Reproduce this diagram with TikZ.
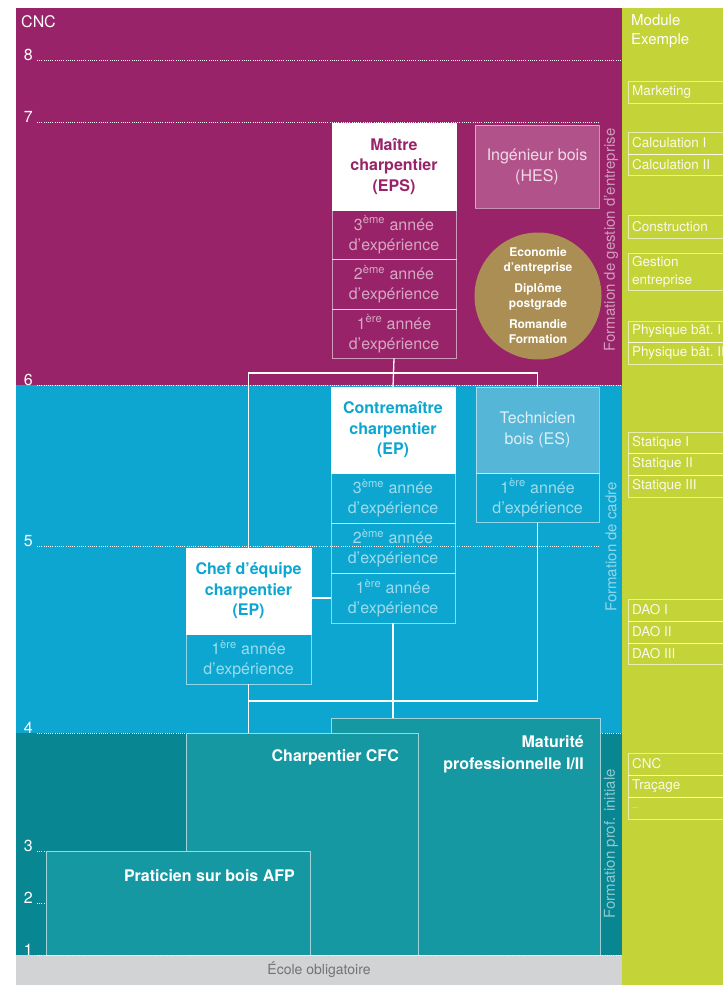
\documentclass[tikz,border=0pt]{standalone}
\usepackage{fontspec}
\setmainfont{TeX Gyre Heros}
\usetikzlibrary{positioning}

\definecolor{cncpurple}{RGB}{152,35,105}
\definecolor{hespurple}{RGB}{178,82,139}
\definecolor{cadrecyan}{RGB}{12,166,208}
\definecolor{escyan}{RGB}{86,182,216}
\definecolor{initteal}{RGB}{8,134,145}
\definecolor{boxteal}{RGB}{22,152,162}
\definecolor{modgreen}{RGB}{196,211,56}
\definecolor{ecolegray}{RGB}{210,211,213}
\definecolor{pdgold}{RGB}{170,142,84}

\begin{document}
\begin{tikzpicture}[x=1pt,y=-1pt,
  level/.style={white,line width=0.9pt,dash pattern=on 0.9pt off 1.3pt},
  levelnum/.style={text=white,font=\fontsize{16}{18}\selectfont,anchor=base east,inner sep=0pt},
  titlebox/.style={fill=white,draw=white,line width=0.8pt,anchor=north west,inner sep=0pt,outer sep=0pt,
    minimum width=124pt,minimum height=86pt,align=center,font=\bfseries\fontsize{16}{20.5}\selectfont},
  yearbox/.style={draw=white,draw opacity=0.55,line width=0.8pt,inner sep=0pt,outer sep=0pt,
    minimum width=124pt,minimum height=49.5pt,align=center,text=white,text opacity=0.6,
    font=\fontsize{16}{20}\selectfont},
  link/.style={white,line width=1.3pt},
  cfcbox/.style={fill=boxteal,draw=white,draw opacity=0.6,line width=0.8pt,anchor=north west,inner sep=0pt,outer sep=0pt},
  cfctext/.style={text=white,font=\bfseries\fontsize{16}{22}\selectfont,align=right,inner sep=0pt,anchor=north east},
  sidetext/.style={rotate=90,text=white,text opacity=0.55,font=\fontsize{15}{18}\selectfont,inner sep=0pt},
  modframe/.style={draw=white,draw opacity=0.6,line width=0.7pt},
  modtext/.style={text=white,text opacity=0.9,font=\fontsize{13.5}{18}\selectfont,anchor=west,align=left,inner sep=0pt}
]
\useasboundingbox (0,0) rectangle (723,985);
\clip (0,0) rectangle (723,985);

% Bands
\fill[cncpurple] (16,8) rectangle (622,385);
\fill[cadrecyan] (16,385) rectangle (622,733);
\fill[initteal] (16,733) rectangle (622,955);
\fill[ecolegray] (16,955) rectangle (622,985);
\fill[modgreen] (622,8) rectangle (723,985);

% Levels
\foreach \ly/\lx in {60/622,122/600,385/622,546/600,733/622,851/190,903/50,955/622}
  \draw[level] (37,\ly) -- (\lx,\ly);
\foreach \ly/\num in {60/8,122/7,385/6,546/5,733/4,851/3,903/2,955/1}
  \node[levelnum] (lev\num) at (33,\ly) {\num};
\node[anchor=north west,text=white,font=\fontsize{16}{18}\selectfont,inner sep=0pt] (cnc) at (21,15) {CNC};

% Formation de gestion d'entreprise
\node[titlebox,text=cncpurple,minimum height=87pt] (maitre) at (332,123) {Maître\\charpentier\\(EPS)};
\node[yearbox,below=0pt of maitre] (maitre3) {3\textsuperscript{ème} année\\d'expérience};
\node[yearbox,below=0pt of maitre3] (maitre2) {2\textsuperscript{ème} année\\d'expérience};
\node[yearbox,below=0pt of maitre2] (maitre1) {1\textsuperscript{ère} année\\d'expérience};
\node[titlebox,fill=hespurple,draw opacity=0.5,text=white,text opacity=0.8,font=\fontsize{16}{21}\selectfont,
  minimum height=83pt] (hes) at (475,125) {Ingénieur bois\\(HES)};
\node[circle,fill=pdgold,minimum size=127pt,inner sep=0pt,text=white,align=center,
  font=\bfseries\fontsize{12}{15}\selectfont] (postgrade) at (538,296)
  {Economie\\d'entreprise\\[6pt]Diplôme\\postgrade\\[6pt]Romandie\\Formation};

% Formation de cadre
\node[titlebox,text=cadrecyan] (contre) at (331,387) {Contremaître\\charpentier\\(EP)};
\node[yearbox,below=0pt of contre,minimum height=50pt] (contre3) {3\textsuperscript{ème} année\\d'expérience};
\node[yearbox,below=0pt of contre3,minimum height=50pt] (contre2) {2\textsuperscript{ème} année\\d'expérience};
\node[yearbox,below=0pt of contre2,minimum height=50pt] (contre1) {1\textsuperscript{ère} année\\d'expérience};
\node[titlebox,fill=escyan,draw opacity=0.5,text=white,text opacity=0.8,font=\fontsize{16}{21}\selectfont,
  minimum width=123pt] (techn) at (476,387) {Technicien\\bois (ES)};
\node[yearbox,below=0pt of techn,minimum width=123pt] (techn1) {1\textsuperscript{ère} année\\d'expérience};
\node[titlebox,text=cadrecyan,minimum width=125pt] (chef) at (186,548) {Chef d'équipe\\charpentier\\(EP)};
\node[yearbox,below=0pt of chef,minimum width=125pt,minimum height=50pt] (chef1) {1\textsuperscript{ère} année\\d'expérience};

% Formation prof. initiale
\node[cfcbox,minimum width=269pt,minimum height=237pt] (matu) at (331,718) {};
\node[cfcbox,minimum width=232pt,minimum height=222pt] (cfc) at (186,733) {};
\node[cfcbox,minimum width=264pt,minimum height=104pt] (afp) at (46,851) {};
\node[cfctext] (matutxt) at ([xshift=-16pt,yshift=-17pt]matu.north east) {Maturité\\professionnelle I/II};
\node[cfctext] (cfctxt) at ([xshift=-19pt,yshift=-16pt]cfc.north east) {Charpentier CFC};
\node[cfctext] (afptxt) at ([xshift=-15pt,yshift=-18pt]afp.north east) {Praticien sur bois AFP};

% Connections
\coordinate (upfork) at (393,373);
\coordinate (lowfork) at (393,701);
\draw[link] (maitre1.south) -- (contre.north);
\draw[link] (chef.north) |- (upfork) -| (techn.north);
\draw[link] (contre1.west) -- (contre1.west -| chef.east);
\draw[link] (techn1.south) |- (lowfork) -| (chef1.south);
\draw[link] (chef1.south) -- (chef1.south |- cfc.north);
\draw[link] (contre1.south) -- (contre1.south |- matu.north);

% Side labels
\node[sidetext] (gestionlbl) at (611,240) {Formation de gestion d'entreprise};
\node[sidetext] (cadrelbl) at (611,547) {Formation de cadre};
\node[sidetext] (initlbl) at (611,844) {Formation prof. initiale};
\node[text=black!55,font=\fontsize{14}{16}\selectfont,inner sep=0pt] (ecole) at (319,970) {École obligatoire};

% Modules
\node[anchor=north west,text=white,font=\fontsize{15}{19}\selectfont,align=left,inner sep=0pt] (module) at (631,14) {Module\\Exemple};
\foreach \ytop/\ybot/\modname [count=\i] in {81/103/Marketing,132/154/Calculation I,154/175/Calculation II,
    215/238/Construction,253/290/{Gestion\\entreprise},321/342/Physique bât.~I,342/364/Physique bât.~II,
    432/453/Statique I,453/475/Statique II,475/497/Statique III,599/621/DAO I,621/643/DAO II,643/664/DAO III,
    753/775/CNC,775/797/Traçage,797/819/{\fontsize{7}{8}\selectfont...}}{
  \draw[modframe] (628,\ytop) rectangle (730,\ybot);
  \node[modtext] (mod\i) at (632,{(\ytop+\ybot)/2}) {\modname};
}

\end{tikzpicture}
\end{document}
